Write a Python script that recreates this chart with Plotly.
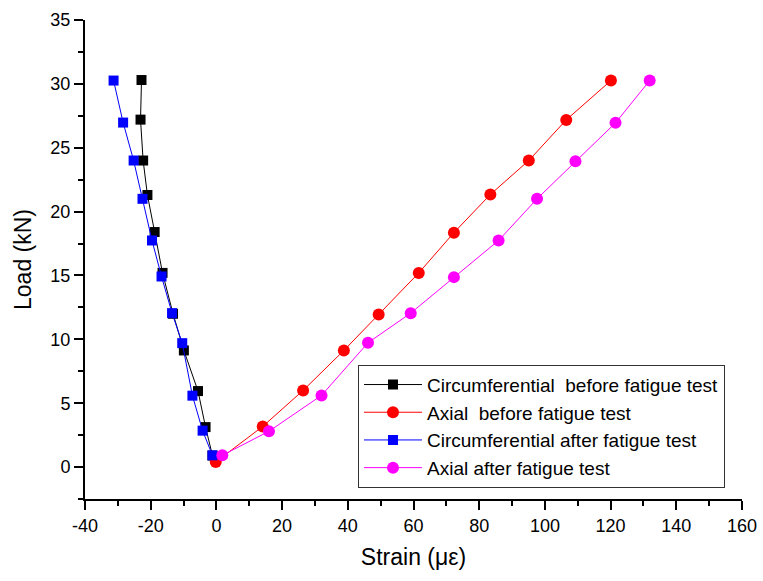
"""Load vs strain, before/after fatigue test."""
import plotly.graph_objects as go

FONT = "Arial, Liberation Sans, sans-serif"

# before fatigue test
circ_before_strain = [-1.2, -3.3, -5.6, -9.9, -13.2, -16.4, -18.8, -21.0, -22.3, -23.1, -22.8]
circ_before_load = [0.9, 3.13, 5.95, 9.13, 12.0, 15.2, 18.4, 21.3, 24.0, 27.2, 30.3]
axial_before_strain = [-0.2, 14.1, 26.4, 38.8, 49.4, 61.6, 72.3, 83.4, 95.1, 106.5, 120.1]
axial_before_load = [0.4, 3.18, 6.0, 9.13, 11.95, 15.2, 18.35, 21.34, 24.0, 27.18, 30.26]

# after fatigue test
circ_after_strain = [-1.2, -4.2, -7.3, -10.4, -13.5, -16.7, -19.6, -22.5, -25.2, -28.4, -31.3]
circ_after_load = [0.92, 2.85, 5.59, 9.7, 12.05, 14.92, 17.74, 21.0, 24.0, 26.97, 30.26]
axial_after_strain = [1.8, 16.0, 32.0, 46.15, 59.15, 72.3, 85.9, 97.6, 109.3, 121.5, 131.9]
axial_after_load = [0.92, 2.8, 5.61, 9.73, 12.05, 14.87, 17.74, 21.0, 23.94, 26.95, 30.26]

x_ticks = [-40, -20, 0, 20, 40, 60, 80, 100, 120, 140, 160]
x_tick_labels = ["-40", "-20", "0", "20", "40", "60", "80", "100", "120", "140", "160"]
y_ticks = [0, 5, 10, 15, 20, 25, 30, 35]

series = [
    ("Circumferential\u00a0 before fatigue test", circ_before_strain, circ_before_load, "#000000", "square", 10),
    ("Axial\u00a0 before fatigue test", axial_before_strain, axial_before_load, "#ff0000", "circle", 12),
    ("Circumferential after fatigue test", circ_after_strain, circ_after_load, "#0000ff", "square", 10),
    ("Axial after fatigue test", axial_after_strain, axial_after_load, "#ff00ff", "circle", 12),
]

fig = go.Figure()
for name, x, y, color, symbol, size in series:
    fig.add_scatter(
        x=x, y=y, name=name, mode="lines+markers",
        line=dict(color=color, width=1),
        marker=dict(color=color, symbol=symbol, size=size, line=dict(width=0)),
    )

axis_common = dict(
    showline=True, linecolor="black", linewidth=2,
    ticks="outside", ticklen=9, tickwidth=2, tickcolor="black",
    showgrid=False, zeroline=False, automargin=False,
    tickfont=dict(family=FONT, size=18, color="black"),
)

fig.update_xaxes(
    range=[-40, 160], tickvals=x_ticks, ticktext=x_tick_labels,
    minor=dict(ticks="outside", dtick=10, tick0=0, ticklen=5, tickwidth=2, tickcolor="black"),
    title=dict(text="Strain (\u03bc\u03b5)", font=dict(family=FONT, size=23, color="black"), standoff=14),
    **axis_common,
)
fig.update_yaxes(
    range=[-2.5, 35], tickvals=y_ticks,
    minor=dict(ticks="outside", tick0=0, dtick=2.5, ticklen=5, tickwidth=2, tickcolor="black"),
    title=dict(text="Load (kN)", font=dict(family=FONT, size=23, color="black"), standoff=12),
    **axis_common,
)

fig.update_layout(
    width=763, height=581,
    margin=dict(l=85, r=21, t=20, b=82),
    plot_bgcolor="white", paper_bgcolor="white",
    font=dict(family=FONT, color="black"),
    legend=dict(
        x=0.4155, y=0.2804, xanchor="left", yanchor="top",
        bordercolor="#333333", borderwidth=1, bgcolor="white",
        font=dict(family=FONT, size=19, color="black"),
        itemwidth=58, tracegroupgap=0,
    ),
)

# drop the default 8px body margin so the figure sits at the page corner
fig.write_html("out.html", config={"displayModeBar": False},
               post_script="document.body.style.margin='0px';")
